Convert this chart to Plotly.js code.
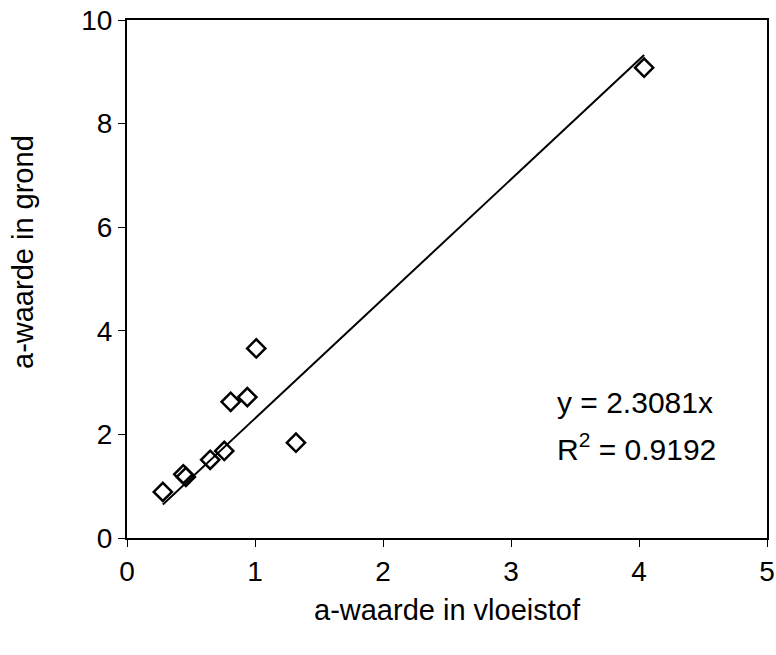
<!DOCTYPE html>
<html><head><meta charset="utf-8">
<script src="https://cdn.plot.ly/plotly-3.0.1.min.js"></script>
<style>html,body{margin:0;padding:0;background:#fff}#chart{width:776px;height:655px}</style>
</head><body><div id="chart"></div>
<script>
const xVals = [0.28, 0.44, 0.46, 0.65, 0.76, 0.81, 0.94, 1.01, 1.32, 4.04];
const yVals = [0.89, 1.23, 1.18, 1.51, 1.68, 2.63, 2.72, 3.66, 1.84, 9.08];
const slope = 2.3081;
const r2 = 0.9192;
const xTicks = [0, 1, 2, 3, 4, 5];
const yTicks = [0, 2, 4, 6, 8, 10];

const xMin = Math.min(...xVals), xMax = Math.max(...xVals);
const fam = 'Liberation Sans, Arial, sans-serif';
const font = {family: fam, size: 28, color: '#000'};
const titleFont = {family: fam, size: 29, color: '#000'};
const annFont = {family: fam, size: 30, color: '#000'};

const data = [
  {x: [xMin, xMax], y: [slope*xMin, slope*xMax], mode: 'lines', line: {color: '#000', width: 2}, hoverinfo: 'skip'},
  {x: xVals, y: yVals, mode: 'markers', marker: {symbol: 'diamond-open', size: 14, color: '#000', line: {width: 2.5, color: '#000'}}}
];
const layout = {
  width: 776, height: 655,
  margin: {l: 127, r: 9, t: 20, b: 117},
  paper_bgcolor: '#fff', plot_bgcolor: '#fff',
  showlegend: false,
  font: font,
  xaxis: {range: [0, 5], tickvals: xTicks, ticks: 'outside', ticklen: 7, tickwidth: 1, tickcolor: '#000',
    showgrid: false, zeroline: false, showline: true, linecolor: '#000', linewidth: 2, mirror: true,
    title: {text: 'a-waarde in vloeistof', font: titleFont, standoff: 14}, tickfont: font},
  yaxis: {range: [0, 10], tickvals: yTicks, ticks: 'outside', ticklen: 7, tickwidth: 1, tickcolor: '#000',
    showgrid: false, zeroline: false, showline: true, linecolor: '#000', linewidth: 2, mirror: true,
    tickfont: font},
  annotations: [
    {xref: 'paper', yref: 'paper', x: -127/640 + 23/640, y: (538-252)/518, xanchor: 'center', yanchor: 'middle', showarrow: false,
     textangle: -90, text: 'a-waarde in grond', font: titleFont},
    {xref: 'paper', yref: 'paper', x: (555-127)/640, y: (538-402)/518, xanchor: 'left', yanchor: 'middle', showarrow: false, align: 'left',
     text: 'y = ' + slope + 'x', font: annFont},
    {xref: 'paper', yref: 'paper', x: (555-127)/640, y: (538-447)/518, xanchor: 'left', yanchor: 'middle', showarrow: false, align: 'left',
     text: 'R<sup>2</sup> = ' + r2, font: annFont}
  ]
};
Plotly.newPlot('chart', data, layout, {displayModeBar: false, staticPlot: true});
</script></body></html>
